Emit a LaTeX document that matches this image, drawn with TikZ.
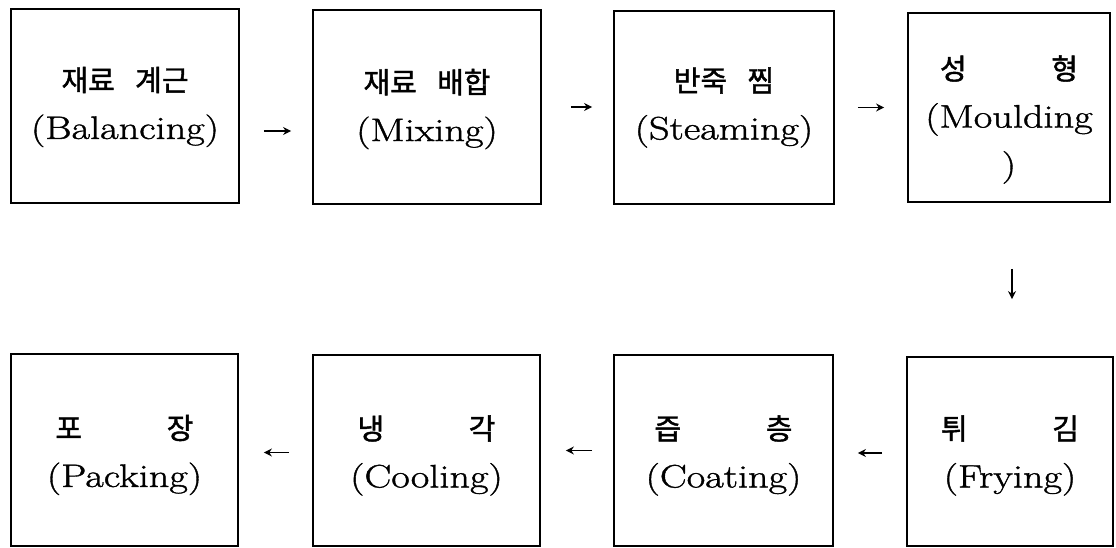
\documentclass[tikz,border=0pt]{standalone}
\usepackage{fontspec}
\setmainfont{Latin Modern Roman}[FakeStretch=1.24,FakeBold=1.2]
\newfontfamily\krfont{Noto Sans CJK KR}[FakeBold=1.5]
\usetikzlibrary{arrows.meta}
\newcommand{\kr}{\krfont\fontsize{29}{48}\selectfont}
\newcommand{\spreadkr}[2]{\makebox[138pt]{#1\hfill#2}}
\begin{document}
\begin{tikzpicture}[x=1pt,y=-1pt,
  box/.style 2 args={draw,line width=1.8pt,inner sep=0pt,minimum width=#1,minimum height=#2},
  txt/.style={align=center,font=\fontsize{32.5}{48}\selectfont,inner sep=0pt},
  arr/.style={line width=1.6pt,-{Stealth[length=8pt,width=8pt]},shorten <=23pt,shorten >=23pt}]
\useasboundingbox (0,0) rectangle (1116,548);
% top row
\node[box={228pt}{194pt}] (b1) at (125,106) {};
\node[box={228pt}{194pt}] (b2) at (427,107) {};
\node[box={220pt}{193pt}] (b3) at (724,107.5) {};
\node[box={202pt}{189pt}] (b4) at (1009,107.5) {};
% bottom row
\node[box={227pt}{192pt}] (b5) at (124.5,450) {};
\node[box={227pt}{191pt}] (b6) at (426.5,450.5) {};
\node[box={219pt}{191pt}] (b7) at (723.5,450.5) {};
\node[box={206pt}{189pt}] (b8) at (1010,451.5) {};
% texts
\node[txt] (t1) at ([yshift=-1pt]b1.center) {{\kr 재료\hspace{0.7em}계근}\\(Balancing)};
\node[txt] (t2) at ([yshift=-2pt]b2.center) {{\kr 재료\hspace{0.7em}배합}\\(Mixing)};
\node[txt] (t3) at ([yshift=0pt]b3.center) {{\kr 반죽\hspace{0.7em}찜}\\(Steaming)};
\node[txt] (t4) at ([yshift=-12pt]b4.center) {{\kr\spreadkr{성}{형}}\\(Moulding\\)};
\node[txt] (t5) at ([yshift=-5pt]b5.center) {{\kr\spreadkr{포}{장}}\\(Packing)};
\node[txt] (t6) at ([yshift=-5pt]b6.center) {{\kr\spreadkr{냉}{각}}\\(Cooling)};
\node[txt] (t7) at ([yshift=-5pt]b7.center) {{\kr\spreadkr{즙}{층}}\\(Coating)};
\node[txt] (t8) at ([yshift=-4pt]b8.center) {{\kr\spreadkr{튀}{김}}\\(Frying)};
% connectors
\draw[arr,shorten <=24pt,shorten >=21pt] ([yshift=-25pt]b1.east) -- ([yshift=-25pt]b1.east -| b2.west);
\draw[arr,shorten <=29pt,shorten >=21pt] (b2.east) -- (b2.east -| b3.west);
\draw[arr] (b3.east) -- (b3.east -| b4.west);
\draw[arr,shorten <=66pt,shorten >=57pt] ([xshift=3pt]b4.south) -- ([xshift=3pt]b4.south |- b8.north);
\draw[arr,shorten <=24pt,shorten >=24pt] ([yshift=-1.5pt]b8.west) -- ([yshift=-1.5pt]b8.west -| b7.east);
\draw[arr,shorten <=21pt,shorten >=25pt] (b7.west) -- (b7.west -| b6.east);
\draw[arr,shorten <=23pt,shorten >=25pt] ([yshift=-2pt]b6.west) -- ([yshift=-2pt]b6.west -| b5.east);
\end{tikzpicture}
\end{document}
